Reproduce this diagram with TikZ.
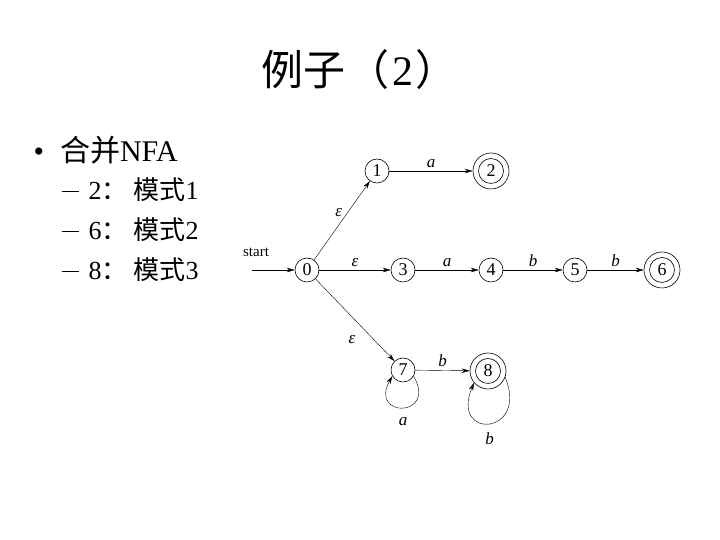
\documentclass[tikz,border=0pt]{standalone}
\usepackage{fontspec}
\setmainfont{Liberation Serif}
\newfontfamily\cjk{Noto Sans CJK SC}
\usetikzlibrary{arrows.meta}

\begin{document}
\begin{tikzpicture}[x=1pt, y=1pt, >={Stealth[length=8pt,width=4.5pt]},
    state/.style={circle, draw, semithick, minimum size=24pt, inner sep=0pt, font=\fontsize{18}{18}\selectfont},
    accept/.style={state, minimum size=36pt, path picture={\draw[semithick] (path picture bounding box.center) circle (12.5pt);}},
    lbl/.style={font=\fontsize{17}{17}\selectfont\itshape},
    item/.style={anchor=west, font=\fontsize{26}{26}\selectfont}]
    \useasboundingbox (0,0) rectangle (720,540);

    % Title and bullets
    \node (title) at (359,470) {\fontsize{42}{42}\selectfont{\cjk 例子}\hspace{3pt}{\cjk （}\hspace{2pt}2\hspace{2pt}{\cjk ）}};
    \node[item, font=\fontsize{30}{30}\selectfont] (nfa) at (30,390) {\textbullet\hspace{16pt}{\cjk 合并}NFA};
    \node[item] (p1) at (58,350) {\rule[8pt]{17pt}{1.2pt}\hspace{10pt}2{\cjk ：}\hspace{6pt}{\cjk 模式}1};
    \node[item] (p2) at (58,310) {\rule[8pt]{17pt}{1.2pt}\hspace{10pt}6{\cjk ：}\hspace{6pt}{\cjk 模式}2};
    \node[item] (p3) at (58,270) {\rule[8pt]{17pt}{1.2pt}\hspace{10pt}8{\cjk ：}\hspace{6pt}{\cjk 模式}3};

    % States
    \node[state] (q0) at (307,270) {0};
    \node[state] (q1) at (377,369) {1};
    \node[accept] (q2) at (491,369) {2};
    \node[state] (q3) at (403,270) {3};
    \node[state] (q4) at (491,270) {4};
    \node[state] (q5) at (575,270) {5};
    \node[accept] (q6) at (662,270) {6};
    \node[state] (q7) at (403,170) {7};
    \node[accept] (q8) at (488,169) {8};

    % Start arrow
    \coordinate (start) at (252,270);
    \draw[->] (start) -- (q0);
    \node[font=\fontsize{15}{15}\selectfont] (startlbl) at (256,288) {start};

    % Transitions
    \draw[->] (q0) -- (q1) node[lbl, pos=0.6, left=2pt] {ε};
    \draw[->] (q1) -- (q2) node[lbl, midway, above] {a};
    \draw[->] (q0) -- (q3) node[lbl, midway, above] {ε};
    \draw[->] (q3) -- (q4) node[lbl, midway, above] {a};
    \draw[->] (q4) -- (q5) node[lbl, midway, above] {b};
    \draw[->] (q5) -- (q6) node[lbl, midway, above] {b};
    \draw[->] (q0) -- (q7) node[lbl, pos=0.6, below left=4pt] {ε};
    \draw[->] (q7) -- (q8) node[lbl, midway, above] {b};

    % Self loops
    \draw[->] (q7.-30) .. controls +(24,-42) and +(-24,-42) .. (q7.-150)
        node[lbl, pos=0.5, below=6pt] {a};
    \draw[->] (q8.-20) .. controls +(24,-58) and +(-24,-58) .. (q8.-140)
        node[lbl, pos=0.5, below=6pt] {b};
\end{tikzpicture}
\end{document}
